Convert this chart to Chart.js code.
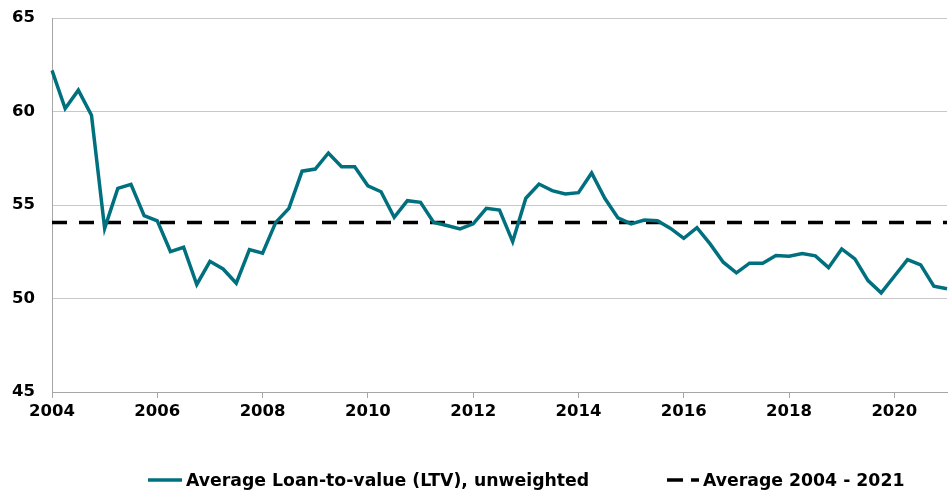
<!DOCTYPE html>
<html>
<head>
<meta charset="utf-8">
<script src="https://cdn.jsdelivr.net/npm/chart.js@4.4.0/dist/chart.umd.min.js"></script>
<style>
  html, body { margin: 0; padding: 0; background: #fff; }
  #wrap { position: relative; width: 951px; height: 492px; }
  #chart { position: absolute; left: 0; top: 0; }
  .legend-item {
    position: absolute; top: 468px; height: 24px;
    display: flex; align-items: center; gap: 3px;
    font: bold 17.3px "DejaVu Sans", sans-serif; color: #000; white-space: nowrap;
  }
</style>
</head>
<body>
<div id="wrap">
  <canvas id="chart" width="951" height="492"></canvas>
  <div id="legend"></div>
</div>
<script>
// quarterly average LTV, 2004 Q1 .. 2021 Q1
const ltvValues = [
  62.2, 60.16, 61.14, 59.8,
  53.75, 55.89, 56.1, 54.43,
  54.15, 52.51, 52.74, 50.75,
  51.99, 51.58, 50.82, 52.62,
  52.42, 54.07, 54.82, 56.81,
  56.92, 57.78, 57.05, 57.05,
  56.03, 55.71, 54.34, 55.23,
  55.14, 54.07, 53.9, 53.72,
  53.99, 54.82, 54.73, 53.04,
  55.36, 56.12, 55.77, 55.59,
  55.66, 56.71, 55.36, 54.31,
  53.99, 54.2, 54.16, 53.75,
  53.22, 53.79, 52.92, 51.94,
  51.37, 51.89, 51.89, 52.3,
  52.26, 52.4, 52.28, 51.65,
  52.65, 52.12, 50.96, 50.3,
  51.19, 52.08, 51.8, 50.66,
  50.52
];
const avgLtv = 54.07;
const seriesNames = ["Average Loan-to-value (LTV), unweighted", "Average 2004 - 2021"];
const yearTicks = ["2004", "2006", "2008", "2010", "2012", "2014", "2016", "2018", "2020"];
const yTicks = [45, 50, 55, 60, 65];

const quarters = [];
for (let y = 2004; y <= 2021; y++) {
  for (let q = 1; q <= 4; q++) {
    if (quarters.length < ltvValues.length) quarters.push(y + " Q" + q);
  }
}

const TEAL = "#00707E";
const AXIS_GREY = "#A6A6A6";
const tickFont = { family: "'DejaVu Sans', sans-serif", size: 16.5, weight: "bold" };

new Chart(document.getElementById("chart"), {
  type: "line",
  data: {
    labels: quarters,
    datasets: [
      {
        label: seriesNames[0],
        data: ltvValues,
        borderColor: TEAL,
        borderWidth: 3.5,
        pointRadius: 0,
        tension: 0,
        fill: false
      },
      {
        label: seriesNames[1],
        data: quarters.map(() => avgLtv),
        borderColor: "#000",
        borderWidth: 3.5,
        borderDash: [15, 12],
        pointRadius: 0,
        fill: false
      }
    ]
  },
  options: {
    responsive: false,
    animation: false,
    devicePixelRatio: 1,
    layout: { padding: { top: 18, right: 4, left: 0, bottom: 0 } },
    plugins: { legend: { display: false }, tooltip: { enabled: false } },
    scales: {
      x: {
        type: "category",
        offset: false,
        afterFit: s => { s.height = 100; },
        afterBuildTicks: s => {
          s.ticks = s.ticks.filter(t => {
            const lab = quarters[t.value];
            return lab.endsWith("Q1") && yearTicks.includes(lab.slice(0, 4));
          });
        },
        grid: { drawOnChartArea: false, drawTicks: true, tickLength: 6, color: AXIS_GREY },
        border: { color: AXIS_GREY, width: 1 },
        ticks: {
          autoSkip: false,
          maxRotation: 0,
          padding: 4,
          color: "#000",
          font: tickFont,
          callback: function (v) { return quarters[v].slice(0, 4); }
        }
      },
      y: {
        min: 45,
        max: 65,
        afterFit: s => {
          s.width = 52;
          s.paddingTop = 0;
          s.paddingBottom = 0;
        },
        afterBuildTicks: s => { s.ticks = yTicks.map(v => ({ value: v })); },
        grid: { color: "#C8C8C8", lineWidth: 1, drawTicks: false },
        border: { color: AXIS_GREY, width: 1 },
        ticks: { padding: 17, color: "#000", font: tickFont }
      }
    }
  }
});

// legend drawn as plain markup under the plot
const legend = document.getElementById("legend");
const legendSpots = [
  { left: 148, sample: '<line x1="0" y1="3" x2="34" y2="3" stroke="' + TEAL + '" stroke-width="3.5"/>' },
  { left: 667, sample: '<line x1="0" y1="3" x2="32" y2="3" stroke="#000" stroke-width="3.5" stroke-dasharray="16 8"/>' }
];
seriesNames.forEach((name, i) => {
  const div = document.createElement("div");
  div.className = "legend-item";
  div.style.left = legendSpots[i].left + "px";
  const w = i === 0 ? 35 : 33;
  div.innerHTML = '<svg width="' + w + '" height="6">' + legendSpots[i].sample + '</svg><span>' + name + '</span>';
  legend.appendChild(div);
});
</script>
</body>
</html>
